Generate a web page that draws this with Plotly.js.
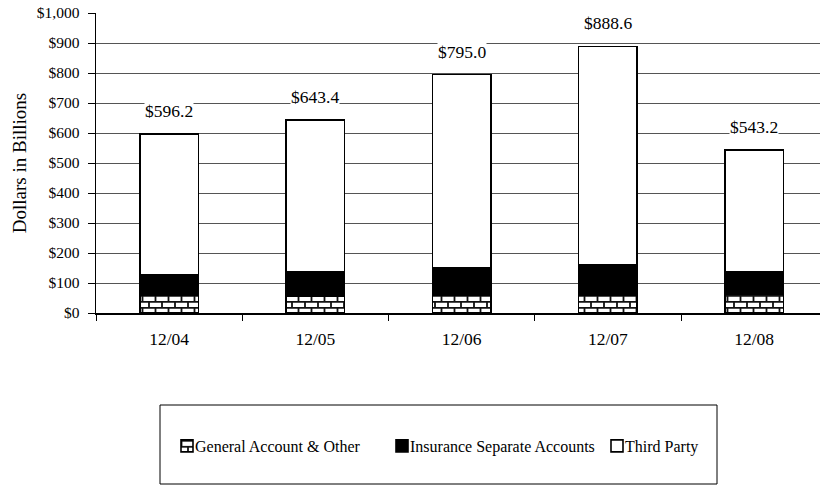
<!DOCTYPE html>
<html>
<head>
<meta charset="utf-8">
<script src="https://cdn.plot.ly/plotly-3.0.1.min.js"></script>
<style>
  html, body { margin: 0; padding: 0; background: #fff; }
  #chart { width: 820px; height: 486px; }
</style>
</head>
<body>
<div id="chart"></div>
<script>
// ---- data (US$ billions) ----
const periods = ["12/04", "12/05", "12/06", "12/07", "12/08"];
const generalAccount = [60, 57, 58, 59, 63];
const separateAccounts = [68, 80, 94, 102, 76];
const totals = [596.2, 643.4, 795.0, 888.6, 543.2];
const thirdParty = totals.map((t, i) => +(t - generalAccount[i] - separateAccounts[i]).toFixed(1));
const totalLabels = ["$596.2", "$643.4", "$795.0", "$888.6", "$543.2"];
const seriesNames = ["General Account & Other", "Insurance Separate Accounts", "Third Party"];
const yTickVals = [0, 100, 200, 300, 400, 500, 600, 700, 800, 900, 1000];
const yTickText = ["$0", "$100", "$200", "$300", "$400", "$500", "$600", "$700", "$800", "$900", "$1,000"];

const FONT = "Liberation Serif";
const outline = { color: "#000", width: 1.6 };

const traces = [
  {
    type: "bar", name: seriesNames[0], x: periods, y: generalAccount, width: 0.4,
    marker: { color: "#fff", line: outline,
      pattern: { shape: "+", fgcolor: "#000", bgcolor: "#fff", size: 7, solidity: 0.25 } },
    hoverinfo: "skip"
  },
  {
    type: "bar", name: seriesNames[1], x: periods, y: separateAccounts, width: 0.4,
    marker: { color: "#000", line: outline }, hoverinfo: "skip"
  },
  {
    type: "bar", name: seriesNames[2], x: periods, y: thirdParty, width: 0.4,
    marker: { color: "#fff", line: outline }, hoverinfo: "skip"
  }
];

const annotations = periods.map((p, i) => ({
  x: p, y: totals[i], xref: "x", yref: "y",
  text: totalLabels[i], showarrow: false,
  yanchor: "bottom", yshift: 12,
  bgcolor: "#fff", borderpad: 0,
  font: { family: FONT, size: 17.5, color: "#000" }
}));

const L = 96, T = 13, W = 724, H = 300;
const px = v => (v - L) / W;
const py = v => (T + H - v) / H;

const layout = {
  width: 820, height: 486,
  margin: { l: L, r: 820 - L - W, t: T, b: 486 - T - H, pad: 0 },
  paper_bgcolor: "#fff", plot_bgcolor: "#fff",
  barmode: "stack", bargap: 0.6,
  font: { family: FONT, size: 15, color: "#000" },
  showlegend: true,
  xaxis: {
    type: "category", range: [-0.5, 4.45],
    showline: true, linecolor: "#000", linewidth: 1.5,
    ticks: "outside", tickson: "boundaries", ticklen: 6, tickcolor: "#000", tickwidth: 1,
    ticklabelstandoff: 9,
    showgrid: false, zeroline: false,
    tickfont: { family: FONT, size: 17.5, color: "#000" }, fixedrange: true
  },
  yaxis: {
    range: [0, 1000], tickvals: yTickVals, ticktext: yTickText,
    showline: true, linecolor: "#000", linewidth: 1.5,
    ticks: "outside", ticklen: 7, tickcolor: "#000", tickwidth: 1,
    ticklabelstandoff: 5,
    showgrid: true, gridcolor: "#555", gridwidth: 1, zeroline: false,
    tickfont: { family: FONT, size: 15.5, color: "#000" },
    title: { text: "Dollars in Billions", font: { family: FONT, size: 19, color: "#000" }, standoff: 5 },
    fixedrange: true
  },
  legend: {
    orientation: "h", traceorder: "normal",
    x: px(155), xanchor: "left", xref: "paper",
    y: py(446), yanchor: "middle", yref: "paper",
    bgcolor: "rgba(0,0,0,0)", borderwidth: 0,
    font: { family: FONT, size: 16, color: "#000" },
    entrywidth: 170, entrywidthmode: "pixels", itemclick: false, itemdoubleclick: false
  },
  shapes: [{
    type: "rect", xref: "paper", yref: "paper",
    x0: px(160), x1: px(717), y0: py(484), y1: py(405),
    line: { color: "#000", width: 1 }, fillcolor: "rgba(0,0,0,0)", layer: "below"
  }],
  annotations: annotations
};

const gd = document.getElementById("chart");
Plotly.newPlot(gd, traces, layout, { displayModeBar: false, staticPlot: true }).then(() => {
  // brick pattern for the General Account series
  const svg = gd.querySelector("svg.main-svg");
  const NS = "http://www.w3.org/2000/svg";
  let defs = svg.querySelector("defs");
  if (!defs) { defs = document.createElementNS(NS, "defs"); svg.insertBefore(defs, svg.firstChild); }
  const pat = document.createElementNS(NS, "pattern");
  pat.setAttribute("id", "brickpat");
  pat.setAttribute("patternUnits", "userSpaceOnUse");
  pat.setAttribute("width", "13");
  pat.setAttribute("height", "12");
  pat.innerHTML =
    '<rect x="0" y="0" width="13" height="12" fill="#fff"/>' +
    '<path d="M0 0.8H13M0 6.8H13M1 0V6.8M7.5 6.8V12" stroke="#111" stroke-width="1.8" fill="none"/>';
  defs.appendChild(pat);
  const barTraces = gd.querySelectorAll(".barlayer .trace");
  if (barTraces.length) {
    barTraces[0].querySelectorAll("path").forEach(p => { p.style.fill = "url(#brickpat)"; p.style.fillOpacity = 1; });
  }
  const legItems = gd.querySelectorAll(".legend .traces");
  legItems.forEach((item, k) => {
    const pts = item.querySelector(".legendpoints");
    if (pts) pts.setAttribute("transform", "translate(12,0)");
    if (k === 0) {
      item.querySelectorAll(".legendpoints path").forEach(p => { p.style.fill = "url(#brickpat)"; p.style.fillOpacity = 1; });
    }
  });
});
</script>
</body>
</html>
